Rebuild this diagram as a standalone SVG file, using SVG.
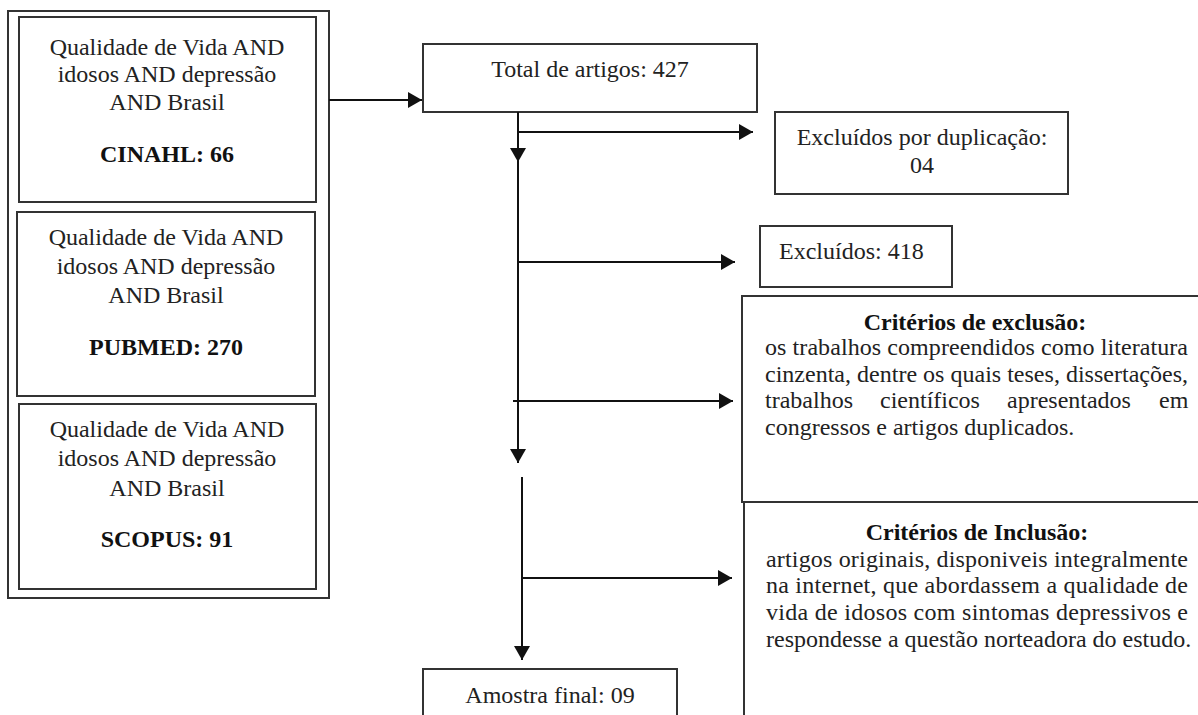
<svg xmlns="http://www.w3.org/2000/svg" width="1198" height="715" viewBox="0 0 1198 715">
<defs>
<style>
.box{fill:#fff;stroke:#333;stroke-width:2}
.t{font-family:"Liberation Serif","Times New Roman",serif;font-size:24px;fill:#222}
.c{text-anchor:middle}
.b{font-weight:bold;fill:#111}
.ln{fill:none;stroke:#111;stroke-width:2}
</style>
<marker id="ah" markerUnits="userSpaceOnUse" markerWidth="15" markerHeight="16" refX="14" refY="8" orient="auto">
<path d="M0,0 L14,8 L0,16 z" fill="#111"/>
</marker>
</defs>
<rect width="1198" height="715" fill="#fff"/>

<g id="sources">
<rect class="box" x="8" y="11" width="321" height="587"/>
<g id="cinahl">
<rect class="box" x="19" y="17" width="297" height="185"/>
<text class="t c" x="167" y="55">Qualidade de Vida AND</text>
<text class="t c" x="167" y="82">idosos AND depressão</text>
<text class="t c" x="167" y="110">AND Brasil</text>
<text class="t c b" x="167" y="162">CINAHL: 66</text>
</g>
<g id="pubmed">
<rect class="box" x="17" y="212" width="298" height="184"/>
<text class="t c" x="166" y="245">Qualidade de Vida AND</text>
<text class="t c" x="166" y="274">idosos AND depressão</text>
<text class="t c" x="166" y="303">AND Brasil</text>
<text class="t c b" x="166" y="355">PUBMED: 270</text>
</g>
<g id="scopus">
<rect class="box" x="19" y="404" width="297" height="185"/>
<text class="t c" x="167" y="437">Qualidade de Vida AND</text>
<text class="t c" x="167" y="466">idosos AND depressão</text>
<text class="t c" x="167" y="496">AND Brasil</text>
<text class="t c b" x="167" y="547">SCOPUS: 91</text>
</g>
</g>

<g id="total">
<rect class="box" x="423" y="44" width="334" height="68"/>
<text class="t c" x="590" y="77">Total de artigos: 427</text>
</g>

<g id="dup">
<rect class="box" x="775" y="112" width="293" height="82"/>
<text class="t c" x="922" y="145">Excluídos por duplicação:</text>
<text class="t c" x="922" y="173">04</text>
</g>

<g id="excl418">
<rect class="box" x="760" y="226" width="192" height="61"/>
<text class="t" x="779" y="259">Excluídos: 418</text>
</g>

<g id="exclusao">
<rect class="box" x="742" y="296" width="470" height="206"/>
<text class="t c b" x="975" y="330">Critérios de exclusão:</text>
<text class="t" x="765" y="355" textLength="423" lengthAdjust="spacing">os trabalhos compreendidos como literatura</text>
<text class="t" x="765" y="382" textLength="423" lengthAdjust="spacing">cinzenta, dentre os quais teses, dissertações,</text>
<text class="t" y="408"><tspan x="765">trabalhos</tspan><tspan x="880">científicos</tspan><tspan x="1007">apresentados</tspan><tspan x="1159">em</tspan></text>
<text class="t" x="765" y="435">congressos e artigos duplicados.</text>
</g>

<g id="inclusao">
<rect class="box" x="744" y="502" width="468" height="230"/>
<text class="t c b" x="977" y="540">Critérios de Inclusão:</text>
<text class="t" x="766" y="567" textLength="422" lengthAdjust="spacing">artigos originais, disponiveis integralmente</text>
<text class="t" x="766" y="593" textLength="422" lengthAdjust="spacing">na internet, que abordassem a qualidade de</text>
<text class="t" x="766" y="620" textLength="422" lengthAdjust="spacing">vida de idosos com sintomas depressivos e</text>
<text class="t" x="766" y="647">respondesse a questão norteadora do estudo.</text>
</g>

<g id="amostra">
<rect class="box" x="423" y="669" width="254" height="60"/>
<text class="t c" x="550" y="703">Amostra final: 09</text>
</g>

<g id="connectors">
<path class="ln" d="M329,100 H422" marker-end="url(#ah)"/>
<path class="ln" d="M518,112 V162" marker-end="url(#ah)"/>
<path class="ln" d="M518,160 V463" marker-end="url(#ah)"/>
<path class="ln" d="M518,132 H753" marker-end="url(#ah)"/>
<path class="ln" d="M518,262 H735" marker-end="url(#ah)"/>
<path class="ln" d="M513,401 H733" marker-end="url(#ah)"/>
<path class="ln" d="M522,477 V660" marker-end="url(#ah)"/>
<path class="ln" d="M522,578 H732" marker-end="url(#ah)"/>
</g>
</svg>
